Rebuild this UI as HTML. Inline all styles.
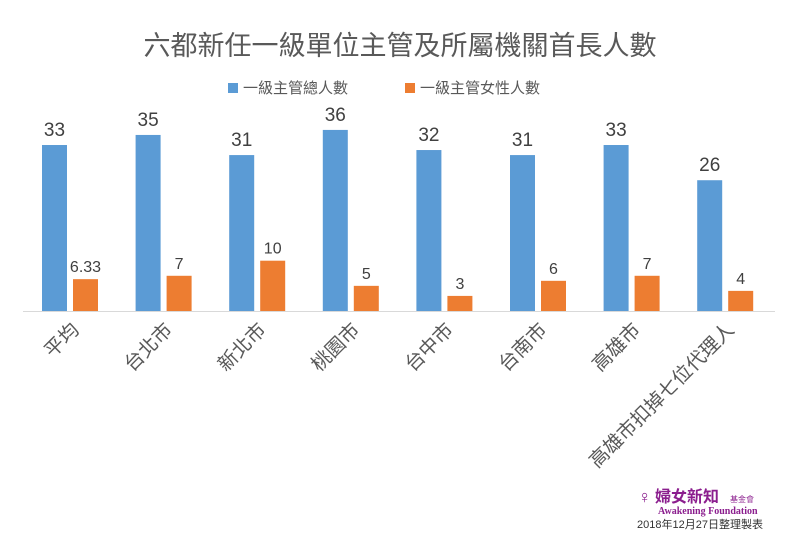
<!DOCTYPE html>
<html><head><meta charset="utf-8"><style>
body{margin:0;background:#fff;width:800px;height:533px;overflow:hidden}
svg{display:block;font-family:"Liberation Sans","Noto Sans CJK TC",sans-serif}
</style></head><body>
<svg id="c" width="800" height="533">
<text x="400" y="55" text-anchor="middle" font-size="27" fill="#595959">六都新任一級單位主管及所屬機關首長人數</text>
<g>
<rect x="228" y="83" width="10" height="10" fill="#5B9BD5"/>
<text x="243" y="93" font-size="15" fill="#595959">一級主管總人數</text>
<rect x="405" y="83" width="10" height="10" fill="#ED7D31"/>
<text x="420" y="93" font-size="15" fill="#595959">一級主管女性人數</text>
</g>
<line x1="23" y1="311.5" x2="775" y2="311.5" stroke="#d9d9d9"/>
<g id="bars"></g>
<g>
<text x="638" y="503" font-size="18" fill="#8B1E8E" font-weight="bold">♀</text>
<text x="655" y="502" font-size="16" fill="#8B1E8E" font-weight="bold">婦女新知</text>
<text x="730" y="502" font-size="8" fill="#8B1E8E">基金會</text>
<text x="658" y="514" font-size="10" fill="#8B1E8E" font-weight="bold" font-family="Liberation Serif,serif">Awakening Foundation</text>
</g>
<text x="637" y="528" font-size="11" fill="#333">2018年12月27日整理製表</text>
</svg>
<script>
const categories=["平均","台北市","新北市","桃園市","台中市","台南市","高雄市","高雄市扣掉七位代理人"];
const totals=[33,35,31,36,32,31,33,26];
const females=[6.33,7,10,5,3,6,7,4];
const labelsF=["6.33","7","10","5","3","6","7","4"];
const g=document.getElementById('bars');
const ns="http://www.w3.org/2000/svg";
const base=311, k=5.03;
const y=v=>base-v*k;
const cx=i=>70+i*93.6;
function mk(t,a){const e=document.createElementNS(ns,t);for(const p in a)e.setAttribute(p,a[p]);g.appendChild(e);return e;}
categories.forEach((c,i)=>{
  const b=mk('rect',{x:cx(i)-28,y:y(totals[i]),width:25,height:totals[i]*k,fill:'#5B9BD5'});
  
  
  const o=mk('rect',{x:cx(i)+3,y:y(females[i]),width:25,height:females[i]*k,fill:'#ED7D31'});
  
  
  const t1=mk('text',{x:cx(i)-15.5,y:y(totals[i])-9,'text-anchor':'middle','font-size':19,fill:'#404040'});
  t1.textContent=totals[i];
  
  
  const t2=mk('text',{x:cx(i)+15.5,y:y(females[i])-7,'text-anchor':'middle','font-size':16,fill:'#404040'});
  t2.textContent=labelsF[i];
  
  
  const l=mk('text',{x:0,y:0,'text-anchor':'end','font-size':19.5,fill:'#595959',transform:`translate(${cx(i)+10},${331}) rotate(-45)`});
  l.textContent=c;
  
  
});
</script>
</body></html>
